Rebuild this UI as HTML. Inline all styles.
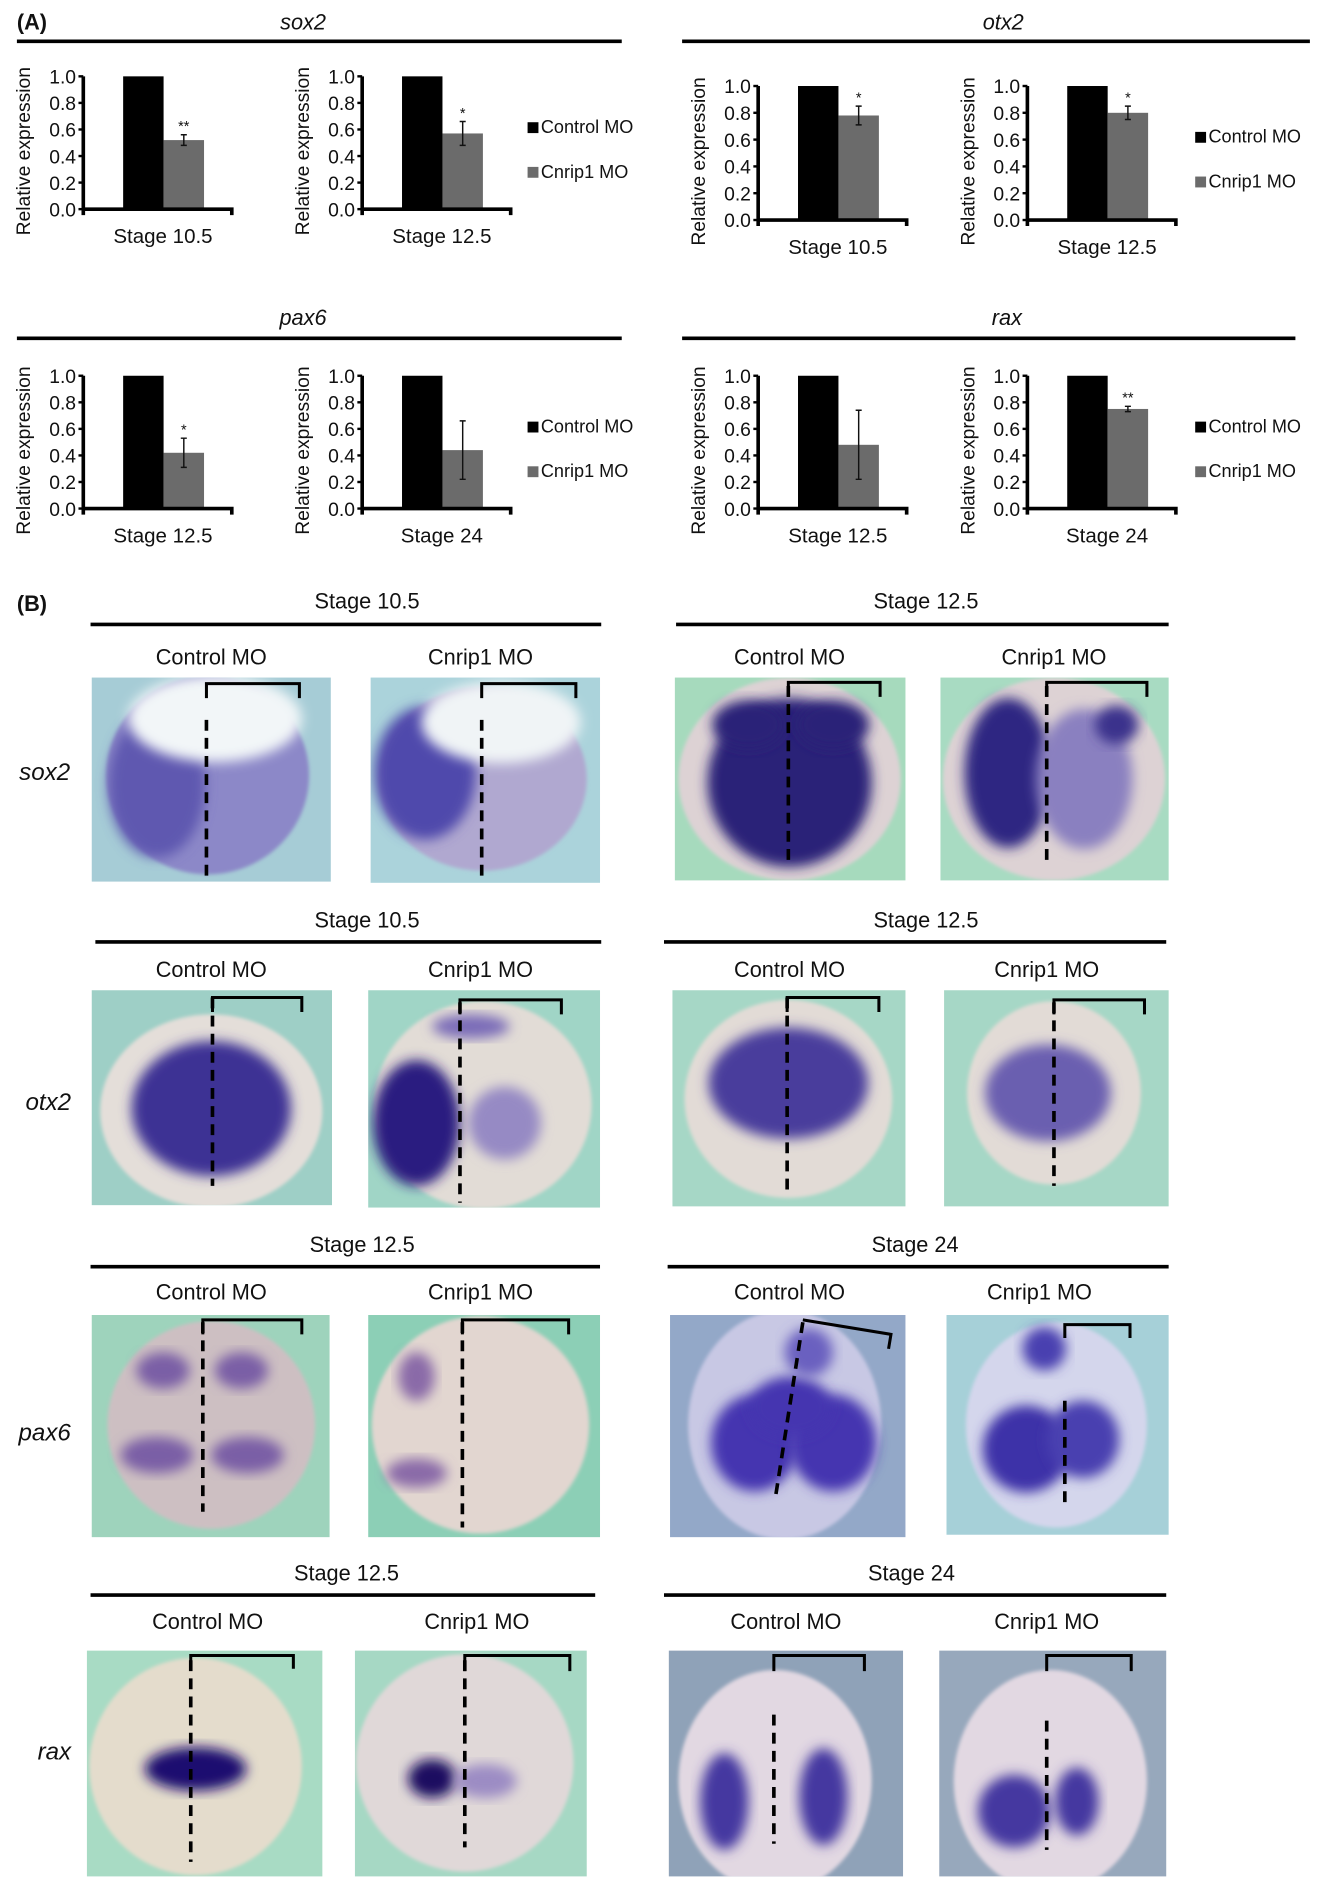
<!DOCTYPE html>
<html><head><meta charset="utf-8"><style>
html,body{margin:0;padding:0;background:#fff}
svg{display:block}
text{font-family:"Liberation Sans",Arial,sans-serif;fill:#111}
</style></head><body>
<svg id="fig" width="1328" height="1896" viewBox="0 0 1100 1570" xmlns="http://www.w3.org/2000/svg">
<defs>
<filter id="bl" x="-20%" y="-20%" width="140%" height="140%"><feGaussianBlur stdDeviation="5"/></filter>
<filter id="bl2" x="-20%" y="-20%" width="140%" height="140%"><feGaussianBlur stdDeviation="1.5"/></filter>
</defs>
<text x="14" y="24" font-size="18" font-weight="bold">(A)</text>
<text x="14" y="506" font-size="18" font-weight="bold">(B)</text>
<g id="charts"></g>
<g id="photos"></g>
</svg>
<script>
// ---- chart data ----
const genes = ["sox2","otx2","pax6","rax"];
const stages = [["Stage 10.5","Stage 12.5"],["Stage 10.5","Stage 12.5"],["Stage 12.5","Stage 24"],["Stage 12.5","Stage 24"]];
const controlValues = [[1,1],[1,1],[1,1],[1,1]];
const cnripValues = [[0.52,0.57],[0.78,0.80],[0.42,0.44],[0.48,0.75]];
const cnripErrors = [[0.04,0.09],[0.07,0.05],[0.11,0.22],[0.26,0.02]];
const significance = [["**","*"],["*","*"],["*",""],["","**"]];
const tickLabels = ["0.0","0.2","0.4","0.6","0.8","1.0"];
const seriesNames = ["Control MO","Cnrip1 MO"];

const NS="http://www.w3.org/2000/svg";
function mk(tag,attrs,parent){const e=document.createElementNS(NS,tag);for(const k in attrs)e.setAttribute(k,attrs[k]);parent.appendChild(e);return e;}
const charts=document.getElementById('charts');
const groups=[
 {l1:14,l2:515,ly:34,ty:24,tx:251,ax:[69,300],top:63,zero:173,lx:437,ly1:110},
 {l1:565,l2:1085,ly:34,ty:24,tx:831,ax:[628,851],top:71,zero:182,lx:990,ly1:118},
 {l1:14,l2:515,ly:280,ty:269,tx:251,ax:[69,300],top:311,zero:421,lx:437,ly1:358},
 {l1:565,l2:1073,ly:280,ty:269,tx:834,ax:[628,851],top:311,zero:421,lx:990,ly1:358}
];
groups.forEach((g,gi)=>{
  const G=mk('g',{},charts);
  
  
  const t=mk('text',{x:g.tx,y:g.ty,'font-size':18,'font-style':'italic','text-anchor':'middle'},G);t.textContent=genes[gi];
  
  
  const hl=mk('line',{x1:g.l1,x2:g.l2,y1:g.ly,y2:g.ly,stroke:'#000','stroke-width':3},G);
  
  
  const yS=v=>g.zero-(g.zero-g.top)*v;
  g.ax.forEach((ax,ci)=>{
    const C=mk('g',{},G);
    
    
    const yl=mk('text',{transform:`translate(${ax-44},${(g.top+g.zero)/2+7}) rotate(-90)`,'font-size':16,'text-anchor':'middle'},C);
    yl.textContent='Relative expression';
    
    
    tickLabels.forEach((tl,i)=>{
      const v=i/5,y=yS(v);
      const tk=mk('line',{x1:ax-4,x2:ax,y1:y,y2:y,stroke:'#000','stroke-width':2},C);
      
      
      const tt=mk('text',{x:ax-6,y:y+6,'font-size':16,'text-anchor':'end'},C);tt.textContent=tl;
      
      
    });
    const x0=ax+33,bw=33.5;
    const b1=mk('rect',{x:x0,y:yS(controlValues[gi][ci]),width:bw,height:g.zero-yS(controlValues[gi][ci]),fill:'#000'},C);
    
    
    const v=cnripValues[gi][ci],e=cnripErrors[gi][ci];
    const b2=mk('rect',{x:x0+bw,y:yS(v),width:bw,height:g.zero-yS(v),fill:'#6b6b6b'},C);
    
    
    const cx=x0+bw*1.5;
    const eb=mk('path',{d:`M${cx},${yS(v+e)}V${yS(v-e)}M${cx-2.5},${yS(v+e)}H${cx+2.5}M${cx-2.5},${yS(v-e)}H${cx+2.5}`,stroke:'#111','stroke-width':1.2,fill:'none'},C);
    
    
    if(significance[gi][ci]){const s=mk('text',{x:cx,y:yS(v+e)-3,'font-size':12,'text-anchor':'middle'},C);s.textContent=significance[gi][ci];
      
      }
    const axl=mk('path',{d:`M${ax},${g.top}V${g.zero}H${ax+123}v5M${ax},${g.zero}v5`,stroke:'#000','stroke-width':3,fill:'none'},C);
    
    
    const st=mk('text',{x:ax+66,y:g.zero+28,'font-size':17,'text-anchor':'middle'},C);st.textContent=stages[gi][ci];
    
    
  });
  seriesNames.forEach((n,i)=>{
    const y=g.ly1+i*37;
    const L=mk('g',{},G);
    
    
    mk('rect',{x:g.lx,y:y-9,width:9,height:9,fill:i?'#6b6b6b':'#000'},L);
    const lt=mk('text',{x:g.lx+11,y:y,'font-size':15},L);lt.textContent=n;
  });
});

const photos=document.getElementById('photos');
const rows=[
 {gene:'sox2',gy:639,gx:37,heads:[["Stage 10.5",304,498,75,498,517],["Stage 12.5",767,498,560,968,517]],ly:543,labels:[175,398,654,873]},
 {gene:'otx2',gy:912,gx:40,heads:[["Stage 10.5",304,762,79,498,780],["Stage 12.5",767,762,550,966,780]],ly:802,labels:[175,398,654,867]},
 {gene:'pax6',gy:1186,gx:37,heads:[["Stage 12.5",300,1031,75,497,1049],["Stage 24",758,1031,553,968,1049]],ly:1069,labels:[175,398,654,861]},
 {gene:'rax',gy:1450,gx:45,heads:[["Stage 12.5",287,1303,75,493,1321],["Stage 24",755,1303,550,966,1321]],ly:1342,labels:[172,395,651,867]}
];
rows.forEach(r=>{
  const gt=mk('text',{x:r.gx,y:r.gy+7,'font-size':20,'font-style':'italic','text-anchor':'middle'},photos);gt.textContent=r.gene;
  
  
  r.heads.forEach(h=>{
    const t=mk('text',{x:h[1],y:h[2]+6,'font-size':18,'text-anchor':'middle'},photos);t.textContent=h[0];
    
    
    const l=mk('line',{x1:h[3],x2:h[4],y1:h[5],y2:h[5],stroke:'#000','stroke-width':3},photos);
    
    
  });
  r.labels.forEach((x,i)=>{
    const t=mk('text',{x:x,y:r.ly+7,'font-size':18,'text-anchor':'middle'},photos);t.textContent=i%2?'Cnrip1 MO':'Control MO';
    
    
  });
});
const P=[
 [76,561,198,169,'#a6ccd6',[172,642,84,82,'#8c88c8'],[[130,650,40,60,'#5e58b0'],[178,595,72,36,'#f2f6f8']],[171,596,171,725],'M171,578V566H248V578'],
 [307,561,190,170,'#abd3db',[400,645,86,76,'#b0a8d0'],[[352,640,42,55,'#4f48ac'],[415,598,66,34,'#f0f4f6']],[399,596,399,728],'M399,578V566H477V578'],
 [559,561,191,168,'#a6dabd',[654,645,92,84,'#ddd2d4'],[[654,648,68,70,'#2a2078'],[620,600,30,20,'#2a2078'],[690,600,30,20,'#2a2078']],[653,568,653,716],'M653,577V565H729V577'],
 [779,561,189,168,'#a8dbc2',[873,645,92,84,'#ddd2d4'],[[835,640,36,62,'#2e2582'],[898,645,40,58,'#8a80c0'],[925,600,18,16,'#3a308c']],[867,568,867,716],'M867,577V565H950V577'],
 [76,820,199,178,'#9ecfc6',[175,920,92,80,'#e4ded9'],[[175,918,66,56,'#3c3394']],[176,826,176,982],'M176,838V826H250V838'],
 [305,820,192,180,'#a0d5c6',[400,915,90,86,'#e2dcd6'],[[345,930,36,52,'#2a1e80'],[418,930,30,30,'#968ac4'],[390,850,32,10,'#7a6cb8']],[381,830,381,996],'M381,840V828H465V840'],
 [557,820,193,179,'#a6d7c6',[653,910,86,82,'#e2dbd6'],[[653,897,66,46,'#4a3d9c']],[652,826,652,985],'M652,838V826H728V838'],
 [782,820,186,179,'#a6d7c6',[873,905,72,76,'#e2dbd6'],[[868,905,52,40,'#6a5fb0']],[873,830,873,982],'M873,840V828H948V840'],
 [76,1089,197,184,'#9ed3bc',[175,1180,86,86,'#cdbfc2'],[[135,1135,22,15,'#7a5ea6'],[200,1135,22,15,'#7a5ea6'],[130,1205,30,15,'#7a5ea6'],[205,1205,30,15,'#7a5ea6']],[168,1095,168,1252],'M168,1105V1093H250V1105'],
 [305,1089,192,184,'#8ccfb6',[398,1180,90,90,'#e2d6d0'],[[345,1140,15,20,'#8a6aa8'],[345,1220,25,12,'#8a6aa8']],[383,1095,383,1265],'M383,1105V1093H471V1105'],
 [555,1089,195,184,'#93a8c8',[650,1180,80,95,'#c8c8e4'],[[625,1195,36,40,'#4536b0'],[690,1195,36,40,'#4536b0'],[655,1165,34,25,'#4536b0'],[670,1120,20,20,'#6a60c0']],[665,1095,642,1242],'M665,1093L738,1105L736,1117'],
 [784,1089,184,182,'#a6d0d8',[875,1180,75,85,'#d4d6ec'],[[850,1200,36,36,'#3d32a8'],[897,1192,30,32,'#4a40b0'],[865,1117,18,18,'#4a40b0']],[882,1160,882,1245],'M882,1108V1097H936V1108'],
 [72,1367,195,187,'#a8dbc4',[162,1463,88,90,'#e4dccc'],[[162,1465,42,18,'#1a0f70']],[158,1375,158,1542],'M158,1382V1371H243V1382'],
 [294,1367,192,187,'#a6d8c4',[385,1460,90,90,'#e0d8d8'],[[358,1473,20,16,'#1a0f60'],[402,1475,26,14,'#9c8cc4']],[385,1375,385,1530],'M385,1384V1371H472V1384'],
 [554,1367,194,187,'#8fa2b8',[642,1475,80,92,'#e2d8e2'],[[600,1492,20,40,'#4438a0'],[682,1488,20,40,'#4438a0']],[641,1420,641,1527],'M641,1384V1371H716V1384'],
 [778,1367,188,187,'#97a8bc',[870,1475,80,92,'#e2d8e2'],[[840,1500,30,30,'#4438a0'],[892,1492,18,28,'#4438a0']],[867,1425,867,1532],'M867,1384V1371H937V1384']
];
P.forEach((p,i)=>{
  const G=mk('g',{},photos);
  
  
  mk('rect',{x:p[0],y:p[1],width:p[2],height:p[3],fill:p[4]},G);
  const cid='c'+i;
  const cp=mk('clipPath',{id:cid},G);
  mk('rect',{x:p[0],y:p[1],width:p[2],height:p[3]},cp);
  const inner=mk('g',{'clip-path':`url(#${cid})`},G);
  const e=p[5];
  mk('ellipse',{cx:e[0],cy:e[1],rx:e[2],ry:e[3],fill:e[4],filter:'url(#bl2)'},inner);
  p[6].forEach(b=>mk('ellipse',{cx:b[0],cy:b[1],rx:b[2],ry:b[3],fill:b[4],filter:'url(#bl)'},inner));
  const d=p[7];
  const dl=mk('line',{x1:d[0],y1:d[1],x2:d[2],y2:d[3],stroke:'#000','stroke-width':3,'stroke-dasharray':'9,6'},G);
  
  
  const br=mk('path',{d:p[8],stroke:'#000','stroke-width':2.5,fill:'none'},G);
  
  
});
</script>
</body></html>
